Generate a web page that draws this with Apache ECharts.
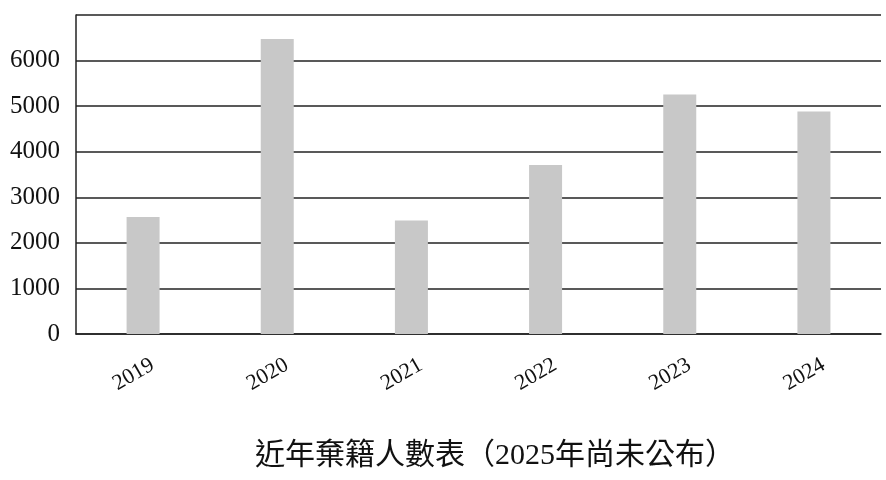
<!DOCTYPE html>
<html>
<head>
<meta charset="utf-8">
<script src="https://cdn.jsdelivr.net/npm/echarts@6/dist/echarts.min.js"></script>
<style>
  html, body { margin: 0; padding: 0; background: #fff; }
  #main { width: 886px; height: 480px; }
</style>
</head>
<body>
<div id="main"></div>
<script>
// 年份與人數
var years = ['2019', '2020', '2021', '2022', '2023', '2024'];
var counts = [2565, 6475, 2490, 3710, 5255, 4885];
var yTicks = [0, 1000, 2000, 3000, 4000, 5000, 6000];

var serif = "'Liberation Serif', 'Noto Sans CJK TC', serif";
var chart = echarts.init(document.getElementById('main'));

var option = {
  animation: false,
  backgroundColor: '#fff',
  graphic: [{
    type: 'text',
    x: 495,
    y: 456,
    style: {
      text: '近年棄籍人數表（2025年尚未公布）',
      align: 'center',
      verticalAlign: 'middle',
      font: "30px 'Liberation Serif', 'Noto Sans CJK TC', serif",
      fill: '#111'
    }
  }],
  grid: { left: 76, right: 5, top: 15, bottom: 146 },
  xAxis: {
    type: 'category',
    data: years,
    axisLine: { lineStyle: { color: '#222', width: 1.5 } },
    axisTick: { alignWithLabel: true, length: 5, lineStyle: { color: '#222', width: 1.5 } },
    axisLabel: {
      rotate: 30,
      margin: 57,
      align: 'center',
      verticalAlign: 'bottom',
      lineHeight: 38,
      fontFamily: serif,
      fontSize: 22,
      color: '#111'
    }
  },
  yAxis: {
    type: 'value',
    min: 0,
    max: 7000,
    interval: 1000,
    axisLine: { show: true, lineStyle: { color: '#222', width: 1.5 } },
    axisTick: { show: false },
    splitLine: { lineStyle: { color: '#222', width: 1.5 } },
    axisLabel: {
      margin: 16,
      fontFamily: serif,
      fontSize: 25,
      color: '#111',
      formatter: function (v) { return yTicks.indexOf(v) >= 0 ? String(v) : ''; }
    }
  },
  series: [{
    type: 'bar',
    data: counts,
    barWidth: 33,
    itemStyle: { color: '#c8c8c8' },
    z: 3
  }]
};
chart.setOption(option);
</script>
</body>
</html>
